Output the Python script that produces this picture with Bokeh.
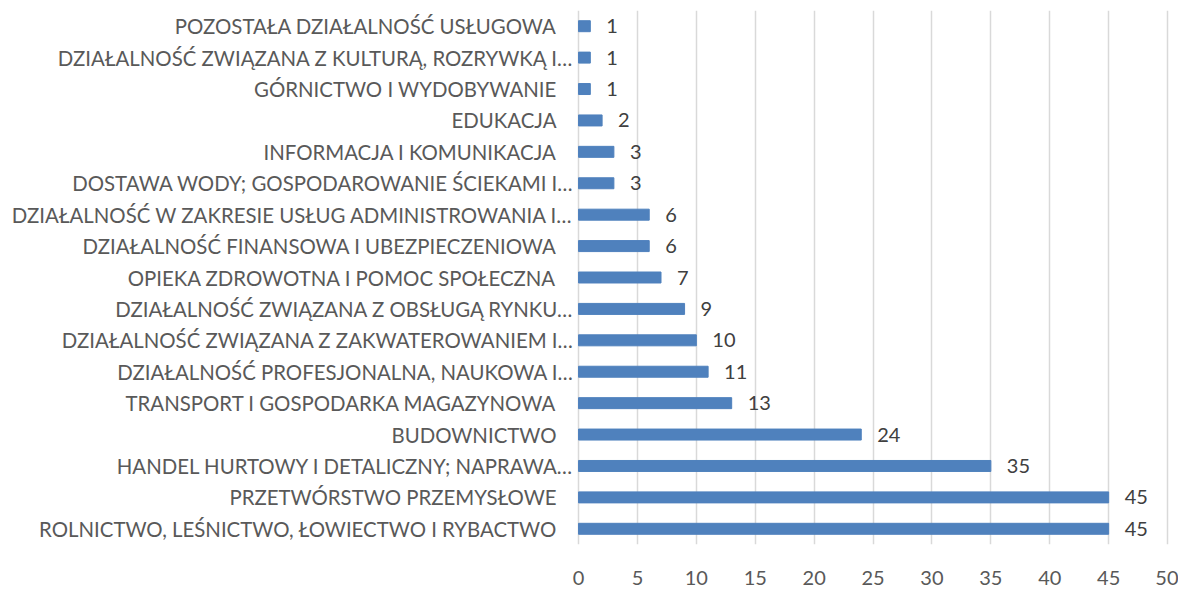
from bokeh.plotting import figure
from bokeh.models import Range1d, FactorRange, FixedTicker, ColumnDataSource
from bokeh.core.properties import value
from bokeh.embed import file_html
from bokeh.resources import INLINE

# Data (top to bottom as shown)
categories = [
    "POZOSTAŁA DZIAŁALNOŚĆ USŁUGOWA",
    "DZIAŁALNOŚĆ ZWIĄZANA Z KULTURĄ, ROZRYWKĄ I…",
    "GÓRNICTWO I WYDOBYWANIE",
    "EDUKACJA",
    "INFORMACJA I KOMUNIKACJA",
    "DOSTAWA WODY; GOSPODAROWANIE ŚCIEKAMI I…",
    "DZIAŁALNOŚĆ W ZAKRESIE USŁUG ADMINISTROWANIA I…",
    "DZIAŁALNOŚĆ FINANSOWA I UBEZPIECZENIOWA",
    "OPIEKA ZDROWOTNA I POMOC SPOŁECZNA",
    "DZIAŁALNOŚĆ ZWIĄZANA Z OBSŁUGĄ RYNKU…",
    "DZIAŁALNOŚĆ ZWIĄZANA Z ZAKWATEROWANIEM I…",
    "DZIAŁALNOŚĆ PROFESJONALNA, NAUKOWA I…",
    "TRANSPORT I GOSPODARKA MAGAZYNOWA",
    "BUDOWNICTWO",
    "HANDEL HURTOWY I DETALICZNY; NAPRAWA…",
    "PRZETWÓRSTWO PRZEMYSŁOWE",
    "ROLNICTWO, LEŚNICTWO, ŁOWIECTWO I RYBACTWO",
]
values = [1, 1, 1, 2, 3, 3, 6, 6, 7, 9, 10, 11, 13, 24, 35, 45, 45]
x_ticks = [0, 5, 10, 15, 20, 25, 30, 35, 40, 45, 50]

FONT = "Lato"
BAR = "#4f81bd"

factors = list(reversed(categories))

src = ColumnDataSource(dict(
    cat=categories,
    val=values,
    lbl=[str(v) for v in values],
    zero=[0] * len(values),
    off=[-5 if c.endswith("…") else -22 for c in categories],
))

p = figure(width=1178, height=587, output_backend="svg", toolbar_location=None,
           y_range=FactorRange(*factors, range_padding=0),
           x_range=Range1d(-49.07, 50.93),
           y_axis_location=None,
           min_border_left=0, min_border_right=0, min_border_top=10, min_border_bottom=40)
p.outline_line_color = None
p.background_fill_color = "white"
p.border_fill_color = "white"

p.hbar(y="cat", left=0, right="val", height=0.35, source=src,
       fill_color=BAR, line_color=BAR)

p.text(x="val", y="cat", text="lbl", source=src, x_offset=16,
       text_baseline="middle", text_align="left",
       text_font=value(FONT), text_font_size="20px", text_color="#404040")

p.text(x="zero", y="cat", text="cat", source=src, x_offset="off",
       text_baseline="middle", text_align="right",
       text_font=value(FONT), text_font_size="20.4px", text_color="#595959")

p.xaxis.ticker = FixedTicker(ticks=x_ticks)
p.xgrid.ticker = FixedTicker(ticks=x_ticks)
p.xgrid.grid_line_color = "#d9d9d9"
p.xgrid.grid_line_width = 1.5
p.ygrid.grid_line_color = None
p.xaxis.axis_line_color = None
p.xaxis.major_tick_line_color = None
p.xaxis.minor_tick_line_color = None
p.xaxis.major_label_standoff = 20
p.xaxis.major_label_text_font = FONT
p.xaxis.major_label_text_font_size = "20px"
p.xaxis.major_label_text_color = "#595959"

open("out.html", "w").write(file_html(p, INLINE))
